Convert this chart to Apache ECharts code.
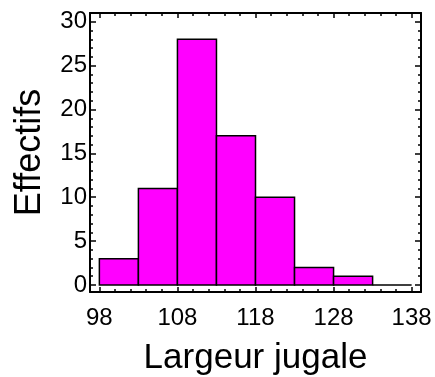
<!DOCTYPE html>
<html><head><meta charset="utf-8">
<script src="https://cdn.jsdelivr.net/npm/echarts@6/dist/echarts.min.js"></script>
<style>html,body{margin:0;padding:0;background:#fff}#c{width:435px;height:377px}</style>
</head><body><div id="c"></div>
<script>
const binStarts = [98, 103, 108, 113, 118, 123, 128, 133];
const binEnds = [103, 108, 113, 118, 123, 128, 133, 138];
const counts = [3, 11, 28, 17, 10, 2, 1, 0];
const xTickLabels = [98, 108, 118, 128, 138];
const xMinorTicks = [98, 100, 102, 104, 106, 108, 110, 112, 114, 116, 118, 120, 122, 124, 126, 128, 130, 132, 134, 136, 138];
const yTickLabels = [0, 5, 10, 15, 20, 25, 30];
const yMinorTicks = [0, 1, 2, 3, 4, 5, 6, 7, 8, 9, 10, 11, 12, 13, 14, 15, 16, 17, 18, 19, 20, 21, 22, 23, 24, 25, 26, 27, 28, 29, 30, 31];
const xTitle = 'Largeur jugale';
const yTitle = 'Effectifs';

const FONT = "'Liberation Sans', Arial, sans-serif";
const X_MIN = 96.8, X_MAX = 139.2, Y_MIN = -0.8, Y_MAX = 31;

function axisBase(kind, pos, ticks, len, showLine, labels) {
  const a = {
    type: 'value', position: pos,
    min: kind === 'x' ? X_MIN : Y_MIN,
    max: kind === 'x' ? X_MAX : Y_MAX,
    splitLine: { show: false },
    axisLine: { show: showLine, onZero: false, lineStyle: { color: '#000', width: 2 } },
    axisTick: { show: true, inside: true, length: len, customValues: ticks, lineStyle: { color: '#000', width: 1.5 } },
    axisLabel: labels ? {
      show: true, customValues: labels, color: '#000', fontFamily: FONT, fontSize: 24,
      margin: kind === 'x' ? 14 : 3
    } : { show: false }
  };
  return a;
}

const xAxes = [
  Object.assign(axisBase('x', 'bottom', xTickLabels, 5, true, xTickLabels), {
    name: xTitle, nameLocation: 'middle', nameGap: 49,
    nameTextStyle: { color: '#000', fontFamily: FONT, fontSize: 35 }
  }),
  axisBase('x', 'bottom', xMinorTicks, 3, false, null),
  axisBase('x', 'top', xTickLabels, 5, true, null),
  axisBase('x', 'top', xMinorTicks, 3, false, null)
];
const yAxes = [
  Object.assign(axisBase('y', 'left', yTickLabels, 6, true, yTickLabels), {
    name: yTitle, nameLocation: 'middle', nameGap: 42,
    nameTextStyle: { color: '#000', fontFamily: FONT, fontSize: 36 }
  }),
  axisBase('y', 'left', yMinorTicks, 3, false, null),
  axisBase('y', 'right', yTickLabels, 6, true, null),
  axisBase('y', 'right', yMinorTicks, 3, false, null)
];

const data = binStarts.map((s, i) => [s, binEnds[i], counts[i]]);

const chart = echarts.init(document.getElementById('c'), null, { renderer: 'canvas' });
chart.setOption({
  animation: false,
  backgroundColor: '#fff',
  grid: { left: 90, right: 14, top: 13, bottom: 85, containLabel: false, outerBoundsMode: 'none' },
  xAxis: xAxes,
  yAxis: yAxes,
  series: [{
    type: 'custom',
    xAxisIndex: 0, yAxisIndex: 0,
    encode: { x: [0, 1], y: 2 },
    data: data,
    renderItem: function (params, api) {
      const p0 = api.coord([api.value(0), api.value(2)]);
      const p1 = api.coord([api.value(1), 0]);
      return {
        type: 'rect',
        shape: { x: p0[0], y: p0[1], width: p1[0] - p0[0], height: p1[1] - p0[1] },
        style: { fill: '#ff00ff', stroke: '#000', lineWidth: 1.5 }
      };
    }
  }]
});
</script>
</body></html>
